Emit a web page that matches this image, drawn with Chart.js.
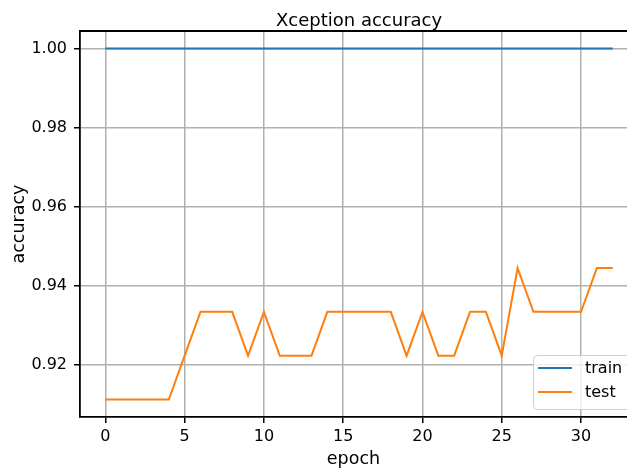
<!DOCTYPE html>
<html>
<head>
<meta charset="utf-8">
<script src="https://cdn.jsdelivr.net/npm/chart.js@4/dist/chart.umd.min.js"></script>
<style>
  html, body { margin: 0; padding: 0; background: #fff; overflow: hidden; }
  #wrap { width: 627px; height: 470px; }
</style>
</head>
<body>
<div id="wrap"><canvas id="accChart" width="627" height="470"></canvas></div>
<script>
// ---- data ----
const epochs = [0,1,2,3,4,5,6,7,8,9,10,11,12,13,14,15,16,17,18,19,20,21,22,23,24,25,26,27,28,29,30,31,32];
const trainAcc = [1,1,1,1,1,1,1,1,1,1,1,1,1,1,1,1,1,1,1,1,1,1,1,1,1,1,1,1,1,1,1,1,1];
const testAcc = [0.9111,0.9111,0.9111,0.9111,0.9111,0.9222,0.9333,0.9333,0.9333,0.9222,
                 0.9333,0.9222,0.9222,0.9222,0.9333,0.9333,0.9333,0.9333,0.9333,0.9222,
                 0.9333,0.9222,0.9222,0.9333,0.9333,0.9222,0.9444,0.9333,0.9333,0.9333,
                 0.9333,0.9444,0.9444];
const xTicks = [0, 5, 10, 15, 20, 25, 30];
const yTicks = [0.92, 0.94, 0.96, 0.98, 1.00];

const FONT = "'DejaVu Sans', sans-serif";

function toPoints(ys) {
    return epochs.map((e, i) => ({ x: e, y: ys[i] }));
}

/* ---- title, top border and legend box drawn by hand ---- */
const extras = {
    id: "extras",
    afterDraw(chart) {
        const ctx = chart.ctx;
        const area = chart.chartArea;
        const xs = chart.scales.x;

        // top spine
        ctx.save();
        ctx.strokeStyle = "#000";
        ctx.lineWidth = 1.8;
        ctx.beginPath();
        ctx.moveTo(area.left, area.top);
        ctx.lineTo(area.right, area.top);
        ctx.stroke();

        // title, centred on the (cropped) axes
        ctx.fillStyle = "#000";
        ctx.font = "18px " + FONT;
        ctx.textAlign = "center";
        ctx.textBaseline = "alphabetic";
        ctx.fillText("Xception accuracy", xs.getPixelForValue(16), 26);

        // legend box in lower right
        const bx = 533, by = 355, bw = 110, bh = 54;
        ctx.fillStyle = "rgba(255,255,255,0.8)";
        ctx.strokeStyle = "#d0d0d0";
        ctx.lineWidth = 1;
        ctx.beginPath();
        ctx.roundRect(bx + 0.5, by + 0.5, bw, bh, 4);
        ctx.fill();
        ctx.stroke();

        ctx.font = "16px " + FONT;
        ctx.textAlign = "left";
        ctx.textBaseline = "middle";
        chart.data.datasets.forEach((ds, i) => {
            const ly = 368 + i * 24;
            ctx.strokeStyle = ds.borderColor;
            ctx.lineWidth = 2;
            ctx.beginPath();
            ctx.moveTo(538, ly);
            ctx.lineTo(572, ly);
            ctx.stroke();
            ctx.fillStyle = "#000";
            ctx.fillText(ds.label, 585, ly + 1);
        });
        ctx.restore();
    }
};

new Chart(document.getElementById("accChart"), {
    type: "line",
    data: {
        datasets: [
            {
                label: "train",
                data: toPoints(trainAcc),
                borderColor: "#1f77b4",
                borderWidth: 2,
                pointRadius: 0,
                tension: 0,
                fill: false
            },
            {
                label: "test",
                data: toPoints(testAcc),
                borderColor: "#ff7f0e",
                borderWidth: 2,
                pointRadius: 0,
                tension: 0,
                fill: false
            }
        ]
    },
    options: {
        responsive: false,
        animation: false,
        devicePixelRatio: 1,
        layout: { padding: { top: 31, right: 0, left: 0, bottom: 0 } },
        plugins: {
            legend: { display: false },
            title: { display: false },
            tooltip: { enabled: false }
        },
        scales: {
            x: {
                type: "linear",
                min: -1.6,
                max: 32.9,
                afterBuildTicks: (s) => { s.ticks = xTicks.map(v => ({ value: v })); },
                afterFit: (s) => { s.height = 53; },
                ticks: {
                    color: "#000",
                    font: { family: FONT, size: 16 },
                    padding: 4,
                    maxRotation: 0,
                    callback: (v) => String(v)
                },
                grid: {
                    color: "#b0b0b0",
                    lineWidth: 1.5,
                    tickLength: 6,
                    tickColor: "#000",
                    tickWidth: 1.5
                },
                border: { color: "#000", width: 1.8 },
                title: {
                    display: true,
                    text: "epoch",
                    color: "#000",
                    font: { family: FONT, size: 17.5 },
                    padding: { top: 0, bottom: 0 }
                }
            },
            y: {
                type: "linear",
                min: 0.90667,
                max: 1.00444,
                afterBuildTicks: (s) => { s.ticks = yTicks.map(v => ({ value: v })); },
                afterFit: (s) => { s.width = 80; },
                ticks: {
                    color: "#000",
                    font: { family: FONT, size: 16 },
                    padding: 7,
                    callback: (v) => Number(v).toFixed(2)
                },
                grid: {
                    color: "#b0b0b0",
                    lineWidth: 1.5,
                    tickLength: 6,
                    tickColor: "#000",
                    tickWidth: 1.5
                },
                border: { color: "#000", width: 1.8 },
                title: {
                    display: true,
                    text: "accuracy",
                    color: "#000",
                    font: { family: FONT, size: 17.5 },
                    padding: { top: 9, bottom: 0 }
                }
            }
        }
    },
    plugins: [extras]
});
</script>
</body>
</html>
